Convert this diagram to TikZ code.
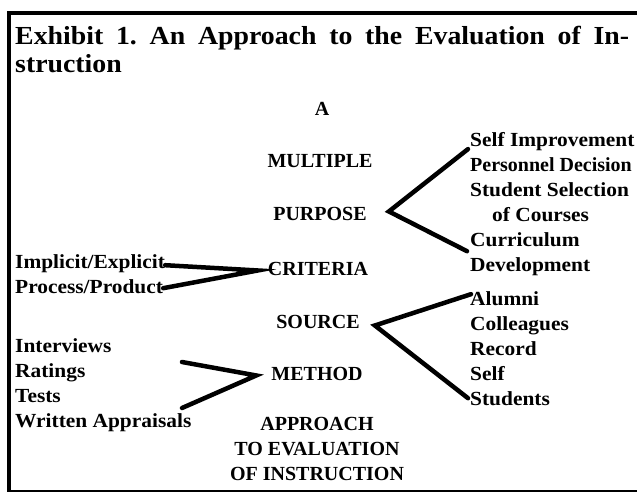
\documentclass[tikz,border=0pt]{standalone}
\usepackage{fontspec}
\setmainfont{Liberation Serif}
\usetikzlibrary{calc}
\frenchspacing

\begin{document}
\begin{tikzpicture}[x=1pt, y=-1pt,
    lbl/.style={font=\fontsize{20}{24}\selectfont\bfseries, inner sep=0pt},
    item/.style={lbl, anchor=base west, font=\fontsize{20}{24}\selectfont\bfseries\addfontfeature{FakeStretch=1.07}},
    tight/.style={font=\fontsize{20}{24}\selectfont\bfseries},
    plain/.style={},
    core/.style={lbl, anchor=base},
    head/.style={anchor=base west, inner sep=0pt, font=\fontsize{26}{30}\selectfont\bfseries\addfontfeature{FakeStretch=1.07}},
    stroke/.style={line width=4.5pt, line cap=round, line join=miter}]
    \useasboundingbox (0,0) rectangle (637,498);

    % frame
    \draw[line width=4pt] (9,491) -- (9,13) -- (637,13);
    \draw[line width=2.5pt] (7,491) -- (637,491);

    % title
    \node[head] (title) at (15,44)
        {\makebox[614pt][s]{Exhibit 1. An Approach to the Evaluation of In-}};
    \node[head] (title2) at (15,72) {struction};

    % middle column
    \node[core] (a) at (322,115) {A};
    \node[core] (multiple) at (320,167) {MULTIPLE};
    \node[core] (purpose) at (320,220) {PURPOSE};
    \node[core] (criteria) at (318,275) {CRITERIA};
    \node[core] (source) at (318,328) {SOURCE};
    \node[core] (method) at (317,380) {METHOD};
    \node[core] (approach) at (317,430) {APPROACH};
    \node[core] (toeval) at (317,455) {TO EVALUATION};
    \node[core] (ofinstr) at (317,480) {OF INSTRUCTION};

    % purposes
    \foreach \t/\dx/\s [count=\i] in {Self Improvement/0/plain, Personnel Decision/0/tight,
        Student Selection/0/plain, of Courses/22/plain, Curriculum/0/plain, Development/0/plain}
        \node[item, \s] (pur\i) at (470+\dx, 121+25*\i) {\t};

    % criteria
    \node[item] (crit1) at (15,268) {Implicit/Explicit};
    \node[item] (crit2) at (15,293) {Process/Product};

    % sources
    \foreach \t [count=\i] in {Alumni, Colleagues, Record, Self, Students}
        \node[item] (src\i) at (470, 280+25*\i) {\t};

    % methods
    \foreach \t [count=\i] in {Interviews, Ratings, Tests, Written Appraisals}
        \node[item] (met\i) at (15, 327+25*\i) {\t};

    % branch points
    \coordinate (purA) at ($(purpose.east)+(22,-2)$);
    \coordinate (purU) at ($(pur1.west)+(-2,8)$);
    \coordinate (purL) at ($(pur5.west)+(-3,12)$);
    \coordinate (critA) at ($(criteria.west)+(-10,2)$);
    \coordinate (srcA) at ($(source.east)+(15,4)$);
    \coordinate (srcU) at ($(src1.west)+(1,-4)$);
    \coordinate (srcL) at ($(src5.west)+(-2,0)$);
    \coordinate (metA) at ($(method.west)+(-15,2)$);
    \coordinate (metU) at (182,362);
    \coordinate (metL) at (182,408);

    \draw[stroke] (purU) -- (purA) -- (purL);
    \draw[stroke] ($(crit1.east)+(0,2)$) -- (critA) -- ($(crit2.east)+(0,2)$);
    \draw[stroke] (srcU) -- (srcA) -- (srcL);
    \draw[stroke] (metU) -- (metA) -- (metL);
\end{tikzpicture}
\end{document}
